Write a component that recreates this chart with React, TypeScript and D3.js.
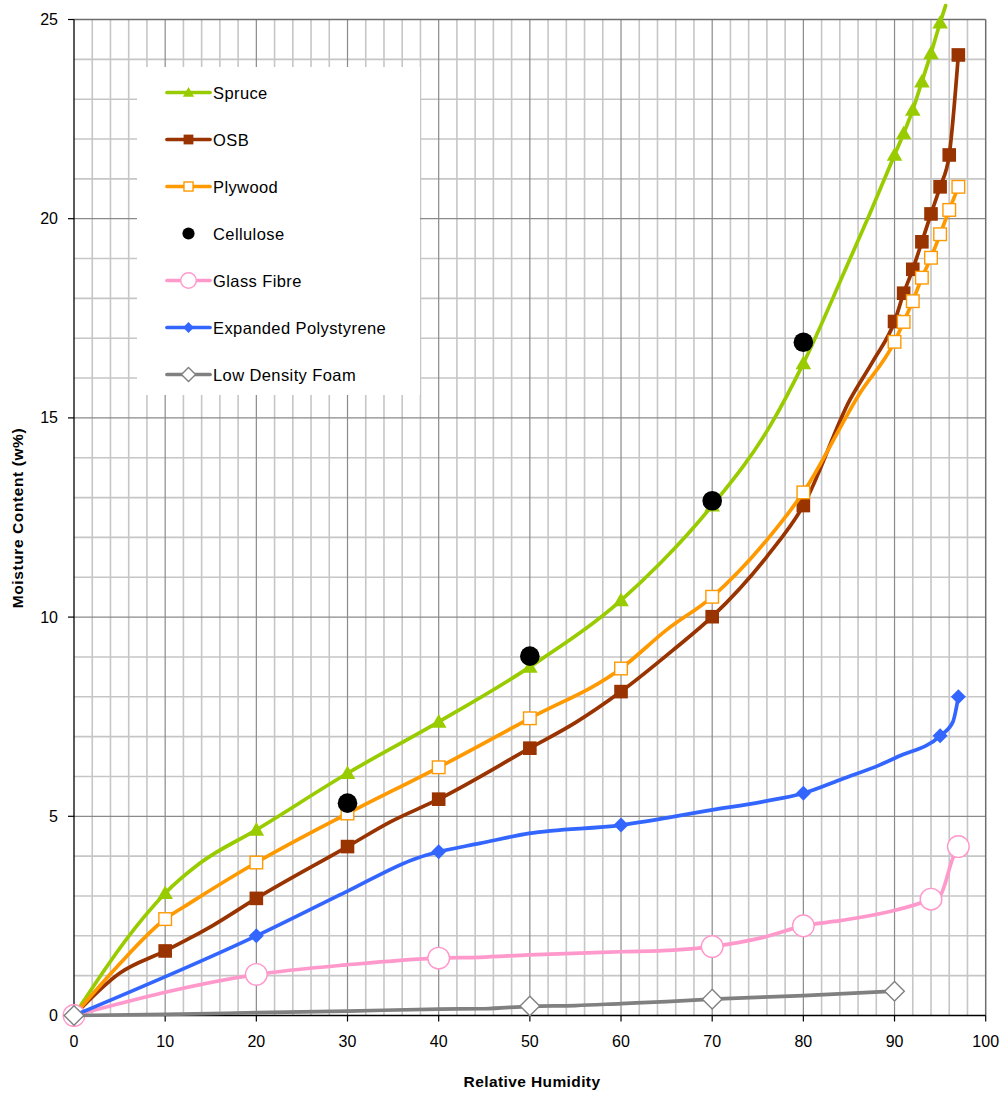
import React from "react";
import * as d3 from "d3";

const W = 1002;
const H = 1093;

// ---------- data ----------
const spruceLineX = [0, 7.6, 10, 13.8, 20, 30, 40, 50, 60, 64.3, 70, 76.3, 80, 84.75, 87.3, 90, 91, 92, 93, 94, 95, 95.6];
const spruceLineY = [0, 2.45, 3.07, 3.82, 4.66, 6.08, 7.37, 8.75, 10.42, 11.35, 12.8, 14.78, 16.37, 18.8, 20.13, 21.6, 22.14, 22.73, 23.44, 24.15, 24.92, 25.35];
const spruceMarkX = [10, 20, 30, 40, 50, 60, 70, 80, 90, 91, 92, 93, 94, 95];
const spruceMarkY = [3.07, 4.66, 6.08, 7.37, 8.75, 10.42, 12.8, 16.37, 21.6, 22.14, 22.73, 23.44, 24.15, 24.92];

const osbLineX = [0, 5, 10, 12.7, 15.3, 20, 30, 34.7, 40, 50, 55, 60, 65.7, 70, 76, 80, 85.1, 87.7, 90, 91, 92, 93, 94, 95, 96, 97];
const osbLineY = [0, 1.06, 1.62, 1.94, 2.27, 2.94, 4.24, 4.86, 5.43, 6.71, 7.35, 8.13, 9.17, 10.01, 11.52, 12.8, 15.45, 16.45, 17.42, 18.13, 18.73, 19.42, 20.12, 20.8, 21.6, 24.11];
const osbMarkX = [10, 20, 30, 40, 50, 60, 70, 80, 90, 91, 92, 93, 94, 95, 96, 97];
const osbMarkY = [1.62, 2.94, 4.24, 5.43, 6.71, 8.13, 10.01, 12.8, 17.42, 18.13, 18.73, 19.42, 20.12, 20.8, 21.6, 24.11];

const plyLineX = [0, 4.7, 10, 12.7, 20, 30, 40, 50, 60, 65, 70, 76.3, 80, 86.2, 90, 91, 92, 93, 94, 95, 96, 97];
const plyLineY = [0, 1.22, 2.42, 2.82, 3.84, 5.07, 6.23, 7.46, 8.71, 9.68, 10.51, 12.02, 13.13, 15.62, 16.91, 17.41, 17.93, 18.52, 19.02, 19.61, 20.22, 20.8];
const plyMarkX = [10, 20, 30, 40, 50, 60, 70, 80, 90, 91, 92, 93, 94, 95, 96, 97];
const plyMarkY = [2.42, 3.84, 5.07, 6.23, 7.46, 8.71, 10.51, 13.13, 16.91, 17.41, 17.93, 18.52, 19.02, 19.61, 20.22, 20.8];

const celluloseX = [30, 50, 70, 80];
const celluloseY = [5.33, 9.02, 12.92, 16.9];

const glassLineX = [0, 20, 29.9, 40, 44.5, 49.9, 60, 65.7, 70, 75.6, 80, 84, 89.5, 94, 95, 96.4, 97];
const glassLineY = [0, 1.03, 1.27, 1.44, 1.46, 1.52, 1.6, 1.64, 1.73, 1.96, 2.25, 2.38, 2.61, 2.92, 3.02, 3.95, 4.24];
const glassMarkX = [0, 20, 40, 70, 80, 94, 97];
const glassMarkY = [0, 1.03, 1.44, 1.73, 2.25, 2.92, 4.24];

const epsLineX = [0, 20, 29.9, 37.6, 40, 44.5, 49.9, 60, 70, 75.6, 80, 84.4, 88.4, 90.4, 95, 96.4, 97];
const epsLineY = [0, 2.0, 3.11, 3.95, 4.11, 4.32, 4.57, 4.78, 5.16, 5.37, 5.58, 5.95, 6.29, 6.5, 7.02, 7.37, 8.0];
const epsMarkX = [20, 40, 60, 80, 95, 97];
const epsMarkY = [2.0, 4.11, 4.78, 5.58, 7.02, 8.0];

const ldfLineX = [0, 10, 20, 30, 40, 45, 50, 55, 60, 65, 70, 80, 90];
const ldfLineY = [0, 0.03, 0.07, 0.11, 0.16, 0.17, 0.23, 0.25, 0.3, 0.35, 0.41, 0.5, 0.61];
const ldfMarkX = [0, 50, 70, 90];
const ldfMarkY = [0, 0.24, 0.41, 0.61];

const xTicks = [0, 10, 20, 30, 40, 50, 60, 70, 80, 90, 100];
const yTicks = [0, 5, 10, 15, 20, 25];

const legendNames = ["Spruce", "OSB", "Plywood", "Cellulose", "Glass Fibre", "Expanded Polystyrene", "Low Density Foam"];

// ---------- layout ----------
const x = d3.scaleLinear().domain([0, 100]).range([74, 985.7]);
const y = d3.scaleLinear().domain([0, 25]).range([1015.5, 19.5]);

const FONT = "'Liberation Sans', Arial, sans-serif";

type Marker = "triangle" | "square" | "openSquare" | "dot" | "openCircle" | "diamond" | "openDiamond";

interface Series {
  name: string;
  color: string;
  lx: number[];
  ly: number[];
  mx: number[];
  my: number[];
  marker: Marker;
}

const series: Series[] = [
  { name: legendNames[0], color: "#99CC00", lx: spruceLineX, ly: spruceLineY, mx: spruceMarkX, my: spruceMarkY, marker: "triangle" },
  { name: legendNames[1], color: "#993300", lx: osbLineX, ly: osbLineY, mx: osbMarkX, my: osbMarkY, marker: "square" },
  { name: legendNames[2], color: "#FF9900", lx: plyLineX, ly: plyLineY, mx: plyMarkX, my: plyMarkY, marker: "openSquare" },
  { name: legendNames[3], color: "#000000", lx: [], ly: [], mx: celluloseX, my: celluloseY, marker: "dot" },
  { name: legendNames[4], color: "#FF99CC", lx: glassLineX, ly: glassLineY, mx: glassMarkX, my: glassMarkY, marker: "openCircle" },
  { name: legendNames[5], color: "#3366FF", lx: epsLineX, ly: epsLineY, mx: epsMarkX, my: epsMarkY, marker: "diamond" },
  { name: legendNames[6], color: "#808080", lx: ldfLineX, ly: ldfLineY, mx: ldfMarkX, my: ldfMarkY, marker: "openDiamond" },
];

function MarkerShape({ kind, cx, cy, color, s }: { kind: Marker; cx: number; cy: number; color: string; s: number }) {
  switch (kind) {
    case "triangle": {
      const h = 7.8 * s;
      return <path d={`M${cx},${cy - h} L${cx + h},${cy + h * 0.75} L${cx - h},${cy + h * 0.75} Z`} fill={color} />;
    }
    case "square": {
      const h = 6.8 * s;
      return <rect x={cx - h} y={cy - h} width={2 * h} height={2 * h} fill={color} />;
    }
    case "openSquare": {
      const h = 6.3 * s;
      return <rect x={cx - h} y={cy - h} width={2 * h} height={2 * h} fill="#fff" stroke={color} strokeWidth={1.4} />;
    }
    case "dot":
      return <circle cx={cx} cy={cy} r={9.8 * s} fill={color} />;
    case "openCircle":
      return <circle cx={cx} cy={cy} r={10.8 * s} fill="#fff" stroke={color} strokeWidth={1.4} />;
    case "diamond": {
      const h = 7.5 * s;
      return <path d={`M${cx},${cy - h} L${cx + h},${cy} L${cx},${cy + h} L${cx - h},${cy} Z`} fill={color} />;
    }
    case "openDiamond": {
      const h = 9.8 * s;
      return <path d={`M${cx},${cy - h} L${cx + h},${cy} L${cx},${cy + h} L${cx - h},${cy} Z`} fill="#fff" stroke={color} strokeWidth={1.4} />;
    }
  }
  return null;
}

export default function App() {
  const line = d3
    .line<[number, number]>()
    .x((d) => x(d[0]))
    .y((d) => y(d[1]))
    .curve(d3.curveMonotoneX);

  const minorX = d3.range(0, 101, 2).filter((v) => v % 10 !== 0);
  const minorY = d3.range(0, 26, 1).filter((v) => v % 5 !== 0);

  const x0 = x(0), x1 = x(100), y0 = y(0), y1 = y(25);

  const legX = 137, legY = 67, legW = 283, legH = 328;
  const rowY = (i: number) => 92.5 + i * 47;

  return (
    <svg width={W} height={H} style={{ position: "absolute", left: 0, top: 0, background: "#fff" }} fontFamily={FONT}>
      <rect x={0} y={0} width={W} height={H} fill="#fff" />
      {/* minor grid */}
      {minorX.map((v) => (
        <line key={"mx" + v} x1={x(v)} x2={x(v)} y1={y1} y2={y0} stroke="#c6c6c6" strokeWidth={1.6} />
      ))}
      {minorY.map((v) => (
        <line key={"my" + v} x1={x0} x2={x1} y1={y(v)} y2={y(v)} stroke="#c6c6c6" strokeWidth={1.6} />
      ))}
      {/* major grid */}
      {xTicks.slice(1, -1).map((v) => (
        <line key={"gx" + v} x1={x(v)} x2={x(v)} y1={y1} y2={y0} stroke="#8a8a8a" strokeWidth={1.2} />
      ))}
      {yTicks.slice(1, -1).map((v) => (
        <line key={"gy" + v} x1={x0} x2={x1} y1={y(v)} y2={y(v)} stroke="#8a8a8a" strokeWidth={1.2} />
      ))}
      {/* plot border */}
      <line x1={x0} x2={x1} y1={y1} y2={y1} stroke="#6e6e6e" strokeWidth={1.5} />
      <line x1={x1} x2={x1} y1={y1} y2={y0} stroke="#6e6e6e" strokeWidth={1.5} />

      {/* legend background */}
      <rect x={legX} y={legY} width={legW} height={legH} fill="#fff" />

      {/* axes */}
      <line x1={x0} x2={x0} y1={y1} y2={y0} stroke="#000" strokeWidth={1.3} />
      <line x1={x0} x2={x1} y1={y0} y2={y0} stroke="#000" strokeWidth={1.3} />
      {yTicks.map((v) => (
        <g key={"yt" + v}>
          <line x1={x0 - 6} x2={x0} y1={y(v)} y2={y(v)} stroke="#000" strokeWidth={1.2} />
          <text x={x0 - 16} y={y(v) + 5.5} textAnchor="end" fontSize={16}>
            {v}
          </text>
        </g>
      ))}
      {xTicks.map((v) => (
        <g key={"xt" + v}>
          <line x1={x(v)} x2={x(v)} y1={y0} y2={y0 + 6} stroke="#000" strokeWidth={1.2} />
          <text x={x(v)} y={y0 + 31} textAnchor="middle" fontSize={16}>
            {v}
          </text>
        </g>
      ))}
      <text x={532} y={1087} textAnchor="middle" fontSize={15.5} fontWeight="bold" letterSpacing={0.4}>
        Relative Humidity
      </text>
      <text transform={`translate(23,518) rotate(-90)`} textAnchor="middle" fontSize={15.5} fontWeight="bold" letterSpacing={0.6}>
        Moisture Content (w%)
      </text>

      {/* series */}
      {series.map((s) => {
        const pts: [number, number][] = s.lx.map((v, i) => [v, s.ly[i]]);
        return (
          <g key={s.name}>
            {pts.length > 0 && (
              <path d={line(pts) || ""} fill="none" stroke={s.color} strokeWidth={3.7} strokeLinejoin="round" strokeLinecap="round" />
            )}
            {s.mx.map((v, i) => (
              <MarkerShape key={i} kind={s.marker} cx={x(v)} cy={y(s.my[i])} color={s.color} s={1} />
            ))}
          </g>
        );
      })}

      {/* legend entries */}
      {series.map((s, i) => (
        <g key={"lg" + s.name}>
          {s.lx.length > 0 && (
            <line x1={167} x2={210} y1={rowY(i)} y2={rowY(i)} stroke={s.color} strokeWidth={3.7} strokeLinecap="round" />
          )}
          <MarkerShape kind={s.marker} cx={188.5} cy={rowY(i)} color={s.color} s={s.marker === "dot" ? 0.62 : 0.72} />
          <text x={213} y={rowY(i) + 6} fontSize={16.5} letterSpacing={0.4}>
            {s.name}
          </text>
        </g>
      ))}
    </svg>
  );
}
